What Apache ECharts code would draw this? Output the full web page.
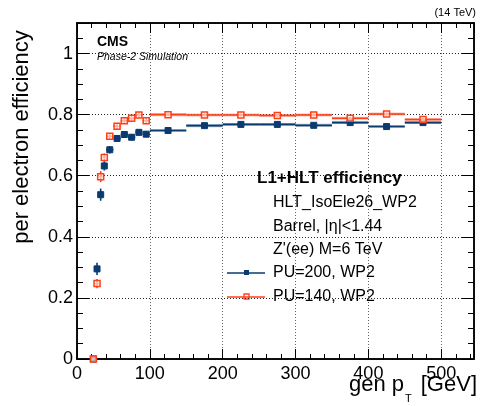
<!DOCTYPE html>
<html>
<head>
<meta charset="utf-8">
<script src="https://cdn.jsdelivr.net/npm/echarts@6/dist/echarts.min.js"></script>
<style>
  html, body { margin: 0; padding: 0; background: #fff; }
  #chart { width: 481px; height: 406px; }
</style>
</head>
<body>
<div id="chart"></div>
<script>
// bin edges in gen pT [GeV]
var ptLo = [20, 25, 30, 35, 40, 50, 60, 70, 80, 90, 100, 150, 200, 250, 300, 350, 400, 450];
var ptHi = [25, 30, 35, 40, 50, 60, 70, 80, 90, 100, 150, 200, 250, 300, 350, 400, 450, 500];

// PU=200, WP2
var effPU200 = [0.0, 0.295, 0.538, 0.632, 0.685, 0.722, 0.735, 0.726, 0.742, 0.736,
                0.748, 0.764, 0.768, 0.768, 0.765, 0.774, 0.761, 0.774];
var errPU200 = [0.003, 0.02, 0.02, 0.015, 0.012, 0.01, 0.01, 0.01, 0.01, 0.01,
                0.005, 0.005, 0.005, 0.005, 0.005, 0.005, 0.005, 0.005];

// PU=140, WP2
var effPU140 = [0.0, 0.247, 0.597, 0.660, 0.729, 0.762, 0.780, 0.788, 0.799, 0.780,
                0.800, 0.799, 0.799, 0.797, 0.799, 0.788, 0.802, 0.784];
var errPU140 = [0.003, 0.015, 0.018, 0.013, 0.01, 0.01, 0.01, 0.01, 0.01, 0.01,
                0.005, 0.005, 0.005, 0.005, 0.005, 0.005, 0.005, 0.005];

var xMajorTicks = [0, 100, 200, 300, 400, 500];
var yMajorTicks = [0, 0.2, 0.4, 0.6, 0.8, 1];

var blue = "#0a3a6e";
var orange = "#ff3f17";
var font = "Liberation Sans, Arial, Helvetica, sans-serif";

var chart = echarts.init(document.getElementById("chart"));

function rows(eff, err) {
  return ptLo.map(function(lo, i) {
    return [lo, ptHi[i], eff[i], err[i]];
  });
}

function makeRender(color, filled) {
  return function(params, api) {
    var lo = api.value(0), hi = api.value(1), y = api.value(2), e = api.value(3);
    var c = (lo + hi) / 2;
    var pLo = api.coord([lo, y]);
    var pHi = api.coord([hi, y]);
    var pC = api.coord([c, y]);
    var pUp = api.coord([c, y + e]);
    var pDn = api.coord([c, y - e]);
    var s = 6;
    var children = [];
    if (hi - lo >= 50) {
      children.push({
        type: "rect",
        shape: { x: pLo[0], y: pUp[1], width: pHi[0] - pLo[0], height: pDn[1] - pUp[1] },
        style: { fill: color, opacity: 0.35 }
      });
    }
    children.push({
      type: "line",
      shape: { x1: pLo[0], y1: pC[1], x2: pHi[0], y2: pC[1] },
      style: { stroke: color, lineWidth: 1.6 }
    });
    children.push({
      type: "line",
      shape: { x1: pC[0], y1: pUp[1], x2: pC[0], y2: pDn[1] },
      style: { stroke: color, lineWidth: 1.6 }
    });
    children.push({
      type: "rect",
      shape: { x: pC[0] - s / 2, y: pC[1] - s / 2, width: s, height: s },
      style: filled
        ? { fill: color, stroke: color, lineWidth: 1 }
        : { fill: "rgba(255,255,255,0.6)", stroke: color, lineWidth: 1.5 }
    });
    return { type: "group", children: children };
  };
}

function xAxisDef(pos, interval, tickLen, labels, split) {
  return {
    type: "value",
    position: pos,
    min: 0,
    max: 545,
    interval: interval,
    axisLine: { show: true, onZero: false, lineStyle: { color: "#000", width: 1.5 } },
    axisTick: { show: true, inside: true, length: tickLen, lineStyle: { color: "#000", width: 1 } },
    axisLabel: {
      show: labels,
      color: "#000",
      fontFamily: font,
      fontSize: 18,
      margin: 6,
      formatter: function(v) {
        return xMajorTicks.indexOf(v) >= 0 ? String(v) : "";
      }
    },
    splitLine: {
      show: split,
      lineStyle: { color: "#666", type: [1, 2], width: 1 }
    }
  };
}

function yAxisDef(pos, interval, tickLen, labels, split) {
  return {
    type: "value",
    position: pos,
    min: 0,
    max: 1.1,
    interval: interval,
    axisLine: { show: true, onZero: false, lineStyle: { color: "#000", width: 1.5 } },
    axisTick: { show: true, inside: true, length: tickLen, lineStyle: { color: "#000", width: 1 } },
    axisLabel: {
      show: labels,
      color: "#000",
      fontFamily: font,
      fontSize: 18,
      margin: 4,
      formatter: function(v) {
        var r = Math.round(v * 100) / 100;
        return yMajorTicks.indexOf(r) >= 0 ? String(r) : "";
      }
    },
    splitLine: {
      show: split,
      lineStyle: { color: "#222", type: [1, 2], width: 1 }
    }
  };
}

var option = {
  animation: false,
  backgroundColor: "#fff",
  grid: { left: 77, right: 7, top: 23, bottom: 47 },
  xAxis: [
    xAxisDef("bottom", 100, 10, true, true),
    xAxisDef("bottom", 20, 5, false, false),
    xAxisDef("top", 100, 10, false, false),
    xAxisDef("top", 20, 5, false, false)
  ],
  yAxis: [
    yAxisDef("left", 0.2, 12, true, true),
    yAxisDef("left", 0.05, 6, false, false),
    yAxisDef("right", 0.2, 12, false, false),
    yAxisDef("right", 0.05, 6, false, false)
  ],
  series: [
    {
      name: "PU=200, WP2",
      type: "custom",
      clip: false,
      xAxisIndex: 0,
      yAxisIndex: 0,
      renderItem: makeRender(blue, true),
      data: rows(effPU200, errPU200),
      z: 3
    },
    {
      name: "PU=140, WP2",
      type: "custom",
      clip: false,
      xAxisIndex: 0,
      yAxisIndex: 0,
      renderItem: makeRender(orange, false),
      data: rows(effPU140, errPU140),
      z: 4
    }
  ],
  graphic: [
    { type: "text", left: null, x: 476, y: 13, style: { text: "(14 TeV)", fontFamily: font, fontSize: 11, fill: "#000", align: "right", verticalAlign: "middle" } },
    { type: "text", x: 97, y: 42, style: { text: "CMS", fontFamily: font, fontSize: 14, fontWeight: "bold", fill: "#000", verticalAlign: "middle" } },
    { type: "text", x: 97, y: 57, style: { text: "Phase-2 Simulation", fontFamily: font, fontSize: 10.5, fontStyle: "italic", fill: "#000", verticalAlign: "middle" } },
    // axis titles
    { type: "text", x: 22, y: 137, rotation: Math.PI / 2, style: { text: "per electron efficiency", fontFamily: font, fontSize: 22, fill: "#000", align: "center", verticalAlign: "middle" } },
    { type: "text", x: 349, y: 385, style: { text: "gen p", fontFamily: font, fontSize: 22, fill: "#000", verticalAlign: "middle" } },
    { type: "text", x: 405, y: 399, style: { text: "T", fontFamily: font, fontSize: 11, fill: "#000", verticalAlign: "middle" } },
    { type: "text", x: 477, y: 385, style: { text: "[GeV]", fontFamily: font, fontSize: 22, fill: "#000", align: "right", verticalAlign: "middle" } },
    // legend block
    { type: "text", x: 257, y: 178, style: { text: "L1+HLT efficiency", fontFamily: font, fontSize: 17, fontWeight: "bold", fill: "#000", verticalAlign: "middle" } },
    { type: "text", x: 273, y: 203, style: { text: "HLT_IsoEle26_WP2", fontFamily: font, fontSize: 16, fill: "#000", verticalAlign: "middle" } },
    { type: "text", x: 273, y: 227, style: { text: "Barrel, |η|<1.44", fontFamily: font, fontSize: 16, fill: "#000", verticalAlign: "middle" } },
    { type: "text", x: 273, y: 250, style: { text: "Z'(ee) M=6 TeV", fontFamily: font, fontSize: 16, fill: "#000", verticalAlign: "middle" } },
    { type: "text", x: 273, y: 273, style: { text: "PU=200, WP2", fontFamily: font, fontSize: 16, fill: "#000", verticalAlign: "middle" } },
    { type: "text", x: 273, y: 297, style: { text: "PU=140, WP2", fontFamily: font, fontSize: 16, fill: "#000", verticalAlign: "middle" } },
    { type: "line", shape: { x1: 227, y1: 273, x2: 265, y2: 273 }, style: { stroke: blue, lineWidth: 1.6 } },
    { type: "rect", shape: { x: 244, y: 270, width: 5, height: 5 }, style: { fill: blue } },
    { type: "line", shape: { x1: 227, y1: 297, x2: 265, y2: 297 }, style: { stroke: orange, lineWidth: 1.6 } },
    { type: "rect", shape: { x: 244, y: 294, width: 5, height: 5 }, style: { fill: "none", stroke: orange, lineWidth: 1.3 } }
  ]
};

chart.setOption(option);
</script>
</body>
</html>
